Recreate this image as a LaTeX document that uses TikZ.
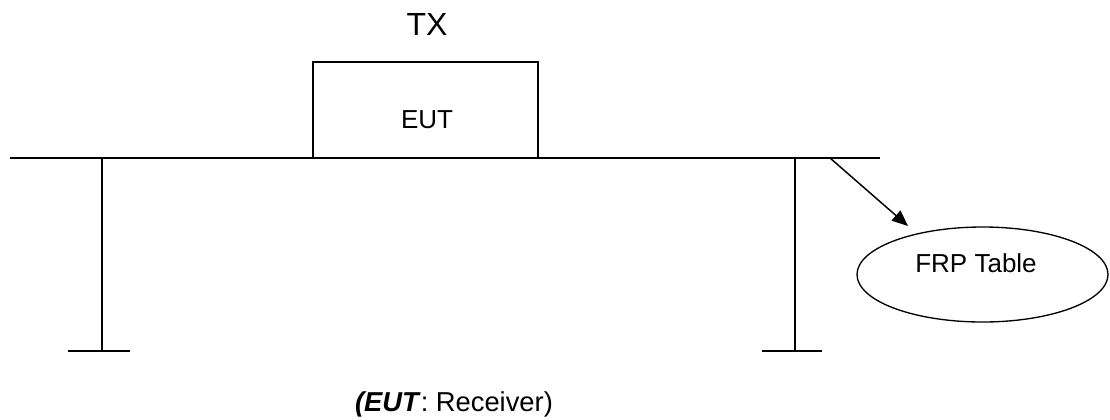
\documentclass[tikz,border=0pt]{standalone}
\usepackage{fontspec}
\setmainfont{Liberation Sans}
\usetikzlibrary{shapes.geometric,arrows.meta}
\begin{document}
\begin{tikzpicture}[x=0.75pt,y=-0.75pt,
  ln/.style={line width=1.4pt},
  lbl/.style={inner sep=0pt,anchor=base,font=\fontsize{19.5}{22}\selectfont}]
\useasboundingbox (0,0) rectangle (1110,419);
\node[lbl,font=\fontsize{24}{28}\selectfont] (tx) at (427,35) {TX};
\node[draw,ln,minimum width=225*0.75pt,minimum height=96*0.75pt,inner sep=0pt] (eut) at (425.5,110) {};
\node[lbl] (eutl) at (427,128) {EUT};
\coordinate (tl) at (10,158);
\coordinate (tr) at (880,158);
\draw[ln] (tl) -- (tr);
\coordinate (l1) at (102,158); \coordinate (l2) at (102,351);
\coordinate (lf1) at (68,351); \coordinate (lf2) at (130,351);
\draw[ln] (l1) -- (l2); \draw[ln] (lf1) -- (lf2);
\coordinate (r1) at (795,158); \coordinate (r2) at (795,351);
\coordinate (rf1) at (762,351); \coordinate (rf2) at (822,351);
\draw[ln] (r1) -- (r2); \draw[ln] (rf1) -- (rf2);
\node[draw,ellipse,line width=1pt,minimum width=251*0.75pt,minimum height=95*0.75pt,inner sep=0pt] (frp) at (982.5,274.5) {};
\node[lbl] (frpl) at (976,272) {FRP Table};
\coordinate (a1) at (830,158);
\draw[line width=1.1pt,-{Triangle[length=12pt,width=10pt]}] (a1) -- (908,226);
\node[lbl,font=\fontsize{20.5}{24}\selectfont] (cap) at (454,411) {\textbf{\textit{(EUT}}: Receiver)};
\end{tikzpicture}
\end{document}
